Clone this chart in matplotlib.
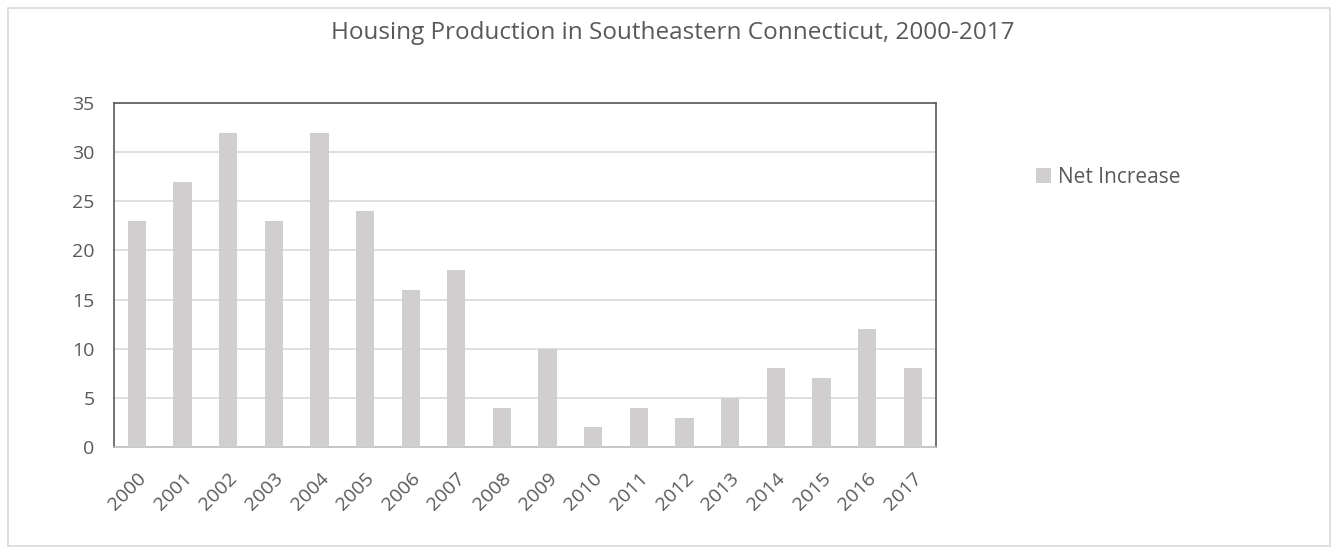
import matplotlib
matplotlib.use('Agg')
import matplotlib.pyplot as plt
from matplotlib.patches import Rectangle

years = ['2000', '2001', '2002', '2003', '2004', '2005', '2006', '2007', '2008',
         '2009', '2010', '2011', '2012', '2013', '2014', '2015', '2016', '2017']
net_increase = [23, 27, 32, 23, 32, 24, 16, 18, 4, 10, 2, 4, 3, 5, 8, 7, 12, 8]

plt.rcParams['font.family'] = ['Open Sans', 'DejaVu Sans']
text_color = '#595959'
bar_color = '#d0cece'

fig = plt.figure(figsize=(13.38, 5.54), dpi=100)
fig.patches.append(Rectangle((0.006, 0.014), 0.988, 0.972, transform=fig.transFigure,
                             fill=False, edgecolor='#d9d9d9', linewidth=1.2))

ax = fig.add_axes([0.0852, 0.193, 0.614, 0.621])
x = range(len(years))
ax.bar(x, net_increase, width=0.4, color=bar_color, label='Net Increase', zorder=3)

ax.set_xlim(-0.5, len(years) - 0.5)
ax.set_ylim(0, 35)
ax.set_yticks(range(0, 36, 5))
ax.set_xticks(list(x))
ax.set_xticklabels(years, rotation=45, ha='right', va='top', rotation_mode='anchor')
ax.tick_params(axis='both', length=0, colors=text_color, labelsize=14)
ax.tick_params(axis='x', pad=16)
ax.tick_params(axis='y', pad=14)
ax.yaxis.grid(True, color='#d9d9d9', linewidth=1.2, zorder=0)

for side in ['left', 'top', 'right']:
    ax.spines[side].set_color('#595959')
    ax.spines[side].set_linewidth(1.2)
ax.spines['bottom'].set_color('#bfbfbf')
ax.spines['bottom'].set_linewidth(1.2)

fig.text(0.503, 0.94, 'Housing Production in Southeastern Connecticut, 2000-2017',
         ha='center', va='center', fontsize=17.5, color=text_color)

ax.legend(loc='center left', bbox_to_anchor=(1.1, 0.785), frameon=False,
          fontsize=15, labelcolor=text_color, handlelength=0.7, handleheight=0.7,
          handletextpad=0.35)

fig.savefig('out.png', dpi=100)
